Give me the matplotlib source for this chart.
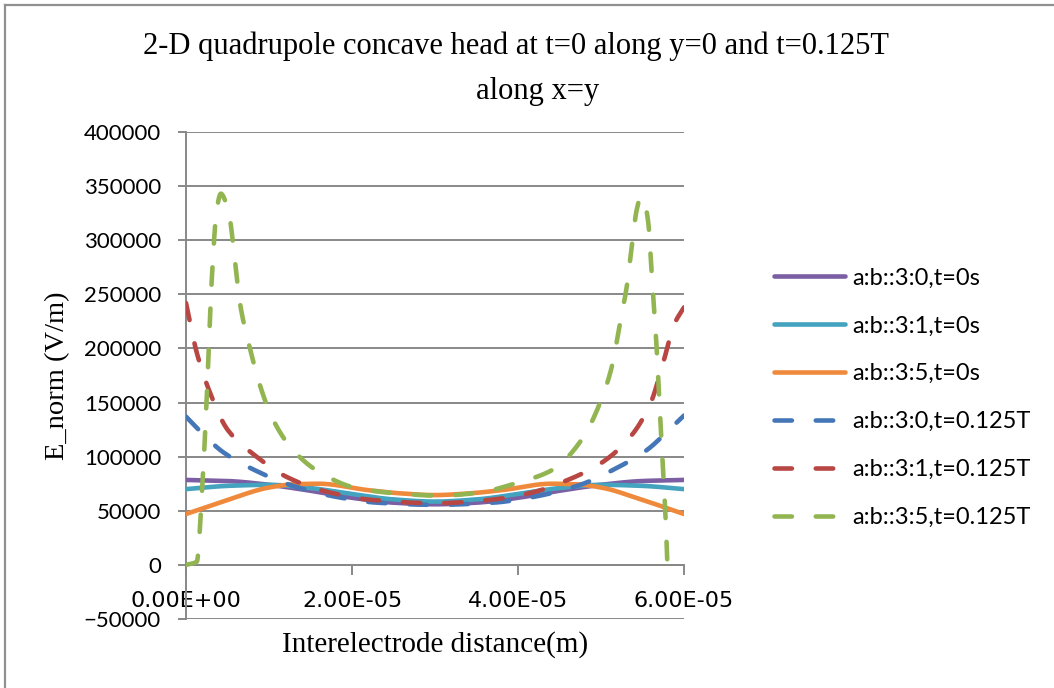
import numpy as np
import matplotlib
matplotlib.use("Agg")
import matplotlib.pyplot as plt
from matplotlib.lines import Line2D
from matplotlib.ticker import FuncFormatter

# distance along the line (units of 1e-5 m) and field magnitude (V/m)
x_30_0 = [0.0, 0.5, 1.0, 1.5, 2.0, 2.5, 3.0, 3.5, 4.0, 4.5, 5.0, 5.5, 6.0]
e_30_0 = [78500, 77500, 74000, 68500, 62000, 57500, 56000, 57500, 62000, 68500, 74000, 77500, 78500]

x_31_0 = [0.0, 0.5, 1.0, 1.5, 2.0, 2.5, 3.0, 3.5, 4.0, 4.5, 5.0, 5.5, 6.0]
e_31_0 = [70000, 73000, 74000, 71000, 65500, 60500, 58500, 60500, 65500, 71000, 74000, 73000, 70000]

x_35_0 = [0.0, 0.5, 1.0, 1.3, 1.6, 2.2, 2.6, 3.0, 3.4, 3.8, 4.4, 4.7, 5.0, 5.5, 6.0]
e_35_0 = [47000, 60000, 71500, 74500, 75000, 69000, 66000, 64500, 66000, 69000, 75000, 74500, 71500, 60000, 47000]

x_30_t = [0.0, 0.15, 0.45, 0.87, 1.25, 1.8, 2.3, 3.0, 3.7, 4.2, 4.75, 5.15, 5.55, 5.85, 6.0]
e_30_t = [137000, 125000, 104000, 86000, 74000, 63000, 57500, 55500, 57500, 63000, 74000, 88000, 106000, 127000, 138000]

x_31_t = [0.0, 0.13, 0.29, 0.5, 0.85, 1.22, 1.7, 2.25, 3.0, 3.65, 4.15, 4.6, 5.0, 5.35, 5.6, 5.75, 5.88, 6.0]
e_31_t = [242000, 196000, 159000, 125000, 100000, 81000, 67500, 60000, 57000, 60000, 66500, 78500, 94000, 118000, 150000, 187000, 222000, 238000]

x_35_t = [0.0, 0.13, 0.19, 0.25, 0.31, 0.37, 0.42, 0.48, 0.53, 0.58, 0.65, 0.77, 0.87, 1.05, 1.29, 1.6, 2.05, 2.55, 3.05,
          3.5, 4.0, 4.42, 4.77, 4.99, 5.13, 5.23, 5.31, 5.37, 5.43, 5.48, 5.53, 5.57, 5.61, 5.67, 5.71, 5.75, 5.78, 5.8]
e_35_t = [0, 3000, 63000, 155000, 263000, 328000, 343000, 335000, 319000, 288000, 242000, 200000, 171000, 134000, 106000,
          86000, 71000, 66000, 64000, 66500, 76000, 88000, 116000, 150000, 183000, 224000, 257000, 294000, 328000, 340000,
          333000, 316000, 270000, 201000, 140000, 85000, 40000, 0]

labels = ["a:b::3:0,t=0s", "a:b::3:1,t=0s", "a:b::3:5,t=0s",
          "a:b::3:0,t=0.125T", "a:b::3:1,t=0.125T", "a:b::3:5,t=0.125T"]
colors = ["#7B5EA3", "#44A3BE", "#EF8A3C", "#4577B8", "#B84744", "#92B552"]
styles = ["-", "-", "-", "--", "--", "--"]
xs_all = [x_30_0, x_31_0, x_35_0, x_30_t, x_31_t, x_35_t]
es_all = [e_30_0, e_31_0, e_35_0, e_30_t, e_31_t, e_35_t]


def pchip(xs, ys, n=25):
    # monotone cubic through the points (no overshoot below zero)
    x = np.asarray(xs, float)
    y = np.asarray(ys, float)
    h = np.diff(x)
    d = np.diff(y) / h
    m = np.zeros_like(y)
    for k in range(1, len(x) - 1):
        if d[k - 1] * d[k] > 0:
            w1 = 2 * h[k] + h[k - 1]
            w2 = h[k] + 2 * h[k - 1]
            m[k] = (w1 + w2) / (w1 / d[k - 1] + w2 / d[k])
    m[0] = d[0]
    m[-1] = d[-1]
    ox, oy = [], []
    for k in range(len(x) - 1):
        t = np.linspace(0, 1, n, endpoint=False)
        h00 = 2 * t ** 3 - 3 * t ** 2 + 1
        h10 = t ** 3 - 2 * t ** 2 + t
        h01 = -2 * t ** 3 + 3 * t ** 2
        h11 = t ** 3 - t ** 2
        ox.extend(x[k] + t * h[k])
        oy.extend(h00 * y[k] + h10 * h[k] * m[k] + h01 * y[k + 1] + h11 * h[k] * m[k + 1])
    ox.append(x[-1])
    oy.append(y[-1])
    return np.array(ox), np.array(oy)


fig = plt.figure(figsize=(10.54, 6.88), dpi=100)
ax = fig.add_axes([186 / 1054, 1 - 619 / 688, (684 - 186) / 1054, (619 - 132) / 688])

grid_col = "#888888"
for xs, ys, lab, col, ls in zip(xs_all, es_all, labels, colors, styles):
    sx, sy = pchip(xs, ys)
    line, = ax.plot(sx * 1e-5, sy, color=col, lw=3.3, ls=ls, label=lab,
                    solid_capstyle="round", dash_capstyle="round", zorder=3)
    if ls == "--":
        line.set_dashes([3.8, 5.2])

ax.set_xlim(0, 6e-5)
ax.set_ylim(-50000, 400000)
ax.set_yticks(np.arange(-50000, 400001, 50000))
ax.set_xticks([0, 2e-5, 4e-5, 6e-5])
ax.xaxis.set_major_formatter(FuncFormatter(lambda v, p: "%.2E" % v))
ax.yaxis.grid(True, color=grid_col, lw=1.4)
ax.set_axisbelow(True)

for s in ("top", "right"):
    ax.spines[s].set_visible(False)
ax.spines["bottom"].set_position(("data", 0))
for s in ("left", "bottom"):
    ax.spines[s].set_color(grid_col)
    ax.spines[s].set_linewidth(1.4)

ax.tick_params(axis="y", direction="out", length=6, width=1.4, color=grid_col, pad=12,
               labelsize=16, labelfontfamily="Lato")
ax.tick_params(axis="x", direction="out", length=7, width=1.4, color=grid_col, pad=12,
               labelsize=16, labelfontfamily="Liberation Sans Narrow")

ax.set_ylabel("E_norm (V/m)", fontfamily="Liberation Serif", fontsize=20.5)
ax.yaxis.set_label_coords(-0.232, 0.5)
ax.set_xlabel("Interelectrode distance(m)", fontfamily="Liberation Serif", fontsize=21)
ax.xaxis.set_label_coords(0.5, -0.024)

fig.text(516 / 1054, 1 - 46 / 688, "2-D quadrupole concave head at t=0 along y=0 and t=0.125T",
         ha="center", va="center", fontfamily="Liberation Serif", fontsize=22)
fig.text(538 / 1054, 1 - 92 / 688, "along x=y",
         ha="center", va="center", fontfamily="Liberation Serif", fontsize=22)

fig.legend(loc="upper left", bbox_to_anchor=(765 / 1054, 1 - 258 / 688), frameon=False,
           prop={"family": "Lato", "size": 17}, handlelength=3.0, handletextpad=0.3,
           labelspacing=1.14, borderaxespad=0)

# chart-area frame (top and left edges)
fig.add_artist(Line2D([5 / 1054, 1], [1 - 5 / 688, 1 - 5 / 688], transform=fig.transFigure,
                      color="#909090", lw=1.6))
fig.add_artist(Line2D([5 / 1054, 5 / 1054], [0, 1 - 5 / 688], transform=fig.transFigure,
                      color="#909090", lw=1.6))

fig.savefig("out.png", dpi=100)
